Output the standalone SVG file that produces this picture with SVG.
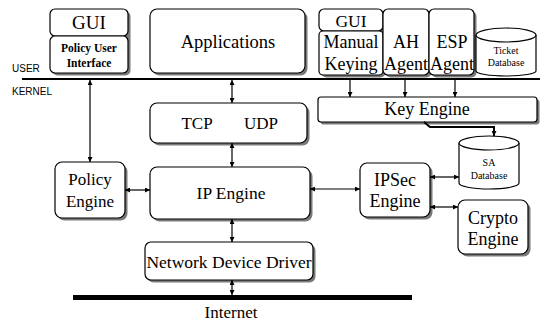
<svg xmlns="http://www.w3.org/2000/svg" width="546" height="323" viewBox="0 0 546 323">
<defs>
<marker id="ah" viewBox="0 0 10 10" refX="10" refY="5" markerWidth="5" markerHeight="5" orient="auto-start-reverse" markerUnits="userSpaceOnUse">
<path d="M0,0 L10,5 L0,10 z" fill="#000"/>
</marker>
<style>
.box{fill:#fff;stroke:#000;stroke-width:1.2}
.sh{fill:#7a7a7a}
.t{font-family:"Liberation Serif","Times New Roman",serif;fill:#000;text-anchor:middle}
.s{font-family:"Liberation Sans",Arial,sans-serif;fill:#000}
.c{stroke:#000;stroke-width:1.2;fill:none}
</style>
</defs>
<rect width="546" height="323" fill="#fff"/>

<text class="s" x="12" y="72" font-size="10">USER</text>
<text class="s" x="12" y="95" font-size="10">KERNEL</text>
<line x1="22" y1="79" x2="540" y2="79" stroke="#000" stroke-width="2.2"/>

<g id="gui-policy">
<rect class="sh" x="52.5" y="11.5" width="78" height="64" rx="5"/>
<rect class="box" x="50" y="9" width="78" height="27" rx="5"/>
<rect class="box" x="50" y="36" width="78" height="37" rx="5"/>
<text class="t" x="89" y="29" font-size="19">GUI</text>
<text class="t" x="89" y="52" font-size="11.5" font-weight="bold">Policy User</text>
<text class="t" x="89" y="67" font-size="11.5" font-weight="bold">Interface</text>
</g>

<g id="applications">
<rect class="sh" x="152.5" y="11.5" width="155" height="64" rx="7"/>
<rect class="box" x="150" y="9" width="155" height="64" rx="7"/>
<text class="t" x="228" y="48" font-size="18.5">Applications</text>
</g>

<g id="gui-manual">
<rect class="sh" x="321.5" y="11.5" width="64" height="66" rx="5"/>
<rect class="box" x="319" y="9" width="64" height="22" rx="5"/>
<rect class="box" x="319" y="31" width="64" height="44" rx="4"/>
<text class="t" x="351" y="27" font-size="17.5">GUI</text>
<text class="t" x="351" y="48" font-size="18">Manual</text>
<text class="t" x="351" y="70" font-size="18">Keying</text>
</g>

<g id="ah-agent">
<rect class="sh" x="385.5" y="11.5" width="46" height="66" rx="5"/>
<rect class="box" x="383" y="9" width="46" height="66" rx="5"/>
<text class="t" x="406" y="48" font-size="18">AH</text>
<text class="t" x="406" y="70" font-size="18">Agent</text>
</g>

<g id="esp-agent">
<rect class="sh" x="431.5" y="11.5" width="45" height="66" rx="5"/>
<rect class="box" x="429" y="9" width="45" height="66" rx="5"/>
<text class="t" x="452" y="48" font-size="18">ESP</text>
<text class="t" x="452" y="70" font-size="18">Agent</text>
</g>

<g id="ticket-db">
<path class="box" d="M476,35 L476,71 A30,5 0 0 0 536,71 L536,35"/>
<ellipse class="box" cx="506" cy="35" rx="30" ry="7"/>
<text class="t" x="506" y="54" font-size="10">Ticket</text>
<text class="t" x="506" y="66" font-size="10">Database</text>
</g>

<g id="tcp-udp">
<rect class="sh" x="152.5" y="105.5" width="157" height="40" rx="7"/>
<rect class="box" x="150" y="103" width="157" height="40" rx="7"/>
<text class="t" x="197" y="129" font-size="17">TCP</text>
<text class="t" x="261" y="129" font-size="17">UDP</text>
</g>

<g id="key-engine">
<rect class="sh" x="320.5" y="99.5" width="219" height="25" rx="3"/>
<rect class="box" x="318" y="97" width="219" height="25" rx="3"/>
<text class="t" x="427" y="115" font-size="18">Key Engine</text>
</g>

<g id="policy-engine">
<rect class="sh" x="57.5" y="164.5" width="70" height="56" rx="7"/>
<rect class="box" x="55" y="162" width="70" height="56" rx="7"/>
<text class="t" x="90" y="185" font-size="17">Policy</text>
<text class="t" x="90" y="207" font-size="17">Engine</text>
</g>

<g id="ip-engine">
<rect class="sh" x="152.5" y="169.5" width="160" height="52" rx="7"/>
<rect class="box" x="150" y="167" width="160" height="52" rx="7"/>
<text class="t" x="231" y="199" font-size="17.5">IP Engine</text>
</g>

<g id="ipsec-engine">
<rect class="sh" x="362.5" y="165.5" width="70" height="54" rx="7"/>
<rect class="box" x="360" y="163" width="70" height="54" rx="7"/>
<text class="t" x="395" y="186" font-size="18">IPSec</text>
<text class="t" x="395" y="207" font-size="18">Engine</text>
</g>

<g id="sa-db">
<path class="box" d="M459,143 L459,183 A30,6 0 0 0 519,183 L519,143"/>
<ellipse class="box" cx="489" cy="143" rx="30" ry="7"/>
<text class="t" x="489" y="166" font-size="10">SA</text>
<text class="t" x="489" y="179" font-size="10">Database</text>
</g>

<g id="crypto-engine">
<rect class="sh" x="460.5" y="202.5" width="70" height="54" rx="7"/>
<rect class="box" x="458" y="200" width="70" height="54" rx="7"/>
<text class="t" x="493" y="224" font-size="18">Crypto</text>
<text class="t" x="493" y="245" font-size="18">Engine</text>
</g>

<g id="net-driver">
<rect class="sh" x="147.5" y="244.5" width="168" height="38" rx="6"/>
<rect class="box" x="145" y="242" width="168" height="38" rx="6"/>
<text class="t" x="229" y="268" font-size="17.5">Network Device Driver</text>
</g>

<g id="internet">
<line x1="73" y1="297.5" x2="412" y2="297.5" stroke="#000" stroke-width="5"/>
<text class="t" x="231" y="318" font-size="17">Internet</text>
</g>

<g id="connectors">
<line class="c" x1="90" y1="80" x2="90" y2="162" marker-start="url(#ah)" marker-end="url(#ah)"/>
<line class="c" x1="232" y1="80" x2="232" y2="103" marker-start="url(#ah)" marker-end="url(#ah)"/>
<line class="c" x1="232" y1="143" x2="232" y2="167" marker-start="url(#ah)" marker-end="url(#ah)"/>
<line class="c" x1="232" y1="219" x2="232" y2="242" marker-start="url(#ah)" marker-end="url(#ah)"/>
<line class="c" x1="232" y1="280" x2="232" y2="295" marker-start="url(#ah)" marker-end="url(#ah)"/>
<line class="c" x1="125" y1="190" x2="150" y2="190" marker-start="url(#ah)" marker-end="url(#ah)"/>
<line class="c" x1="310" y1="189" x2="360" y2="189" marker-start="url(#ah)" marker-end="url(#ah)"/>
<line class="c" x1="430" y1="177" x2="459" y2="177" marker-start="url(#ah)" marker-end="url(#ah)"/>
<line class="c" x1="430" y1="207" x2="458" y2="207" marker-start="url(#ah)" marker-end="url(#ah)"/>
<line class="c" x1="350" y1="80" x2="350" y2="97" marker-end="url(#ah)"/>
<line class="c" x1="405" y1="80" x2="405" y2="97" marker-end="url(#ah)"/>
<line class="c" x1="455" y1="80" x2="455" y2="97" marker-end="url(#ah)"/>
<path d="M424,122 L430,127 L494,127 L494,136" stroke="#000" stroke-width="2" fill="none" marker-end="url(#ah)"/>
</g>
</svg>
